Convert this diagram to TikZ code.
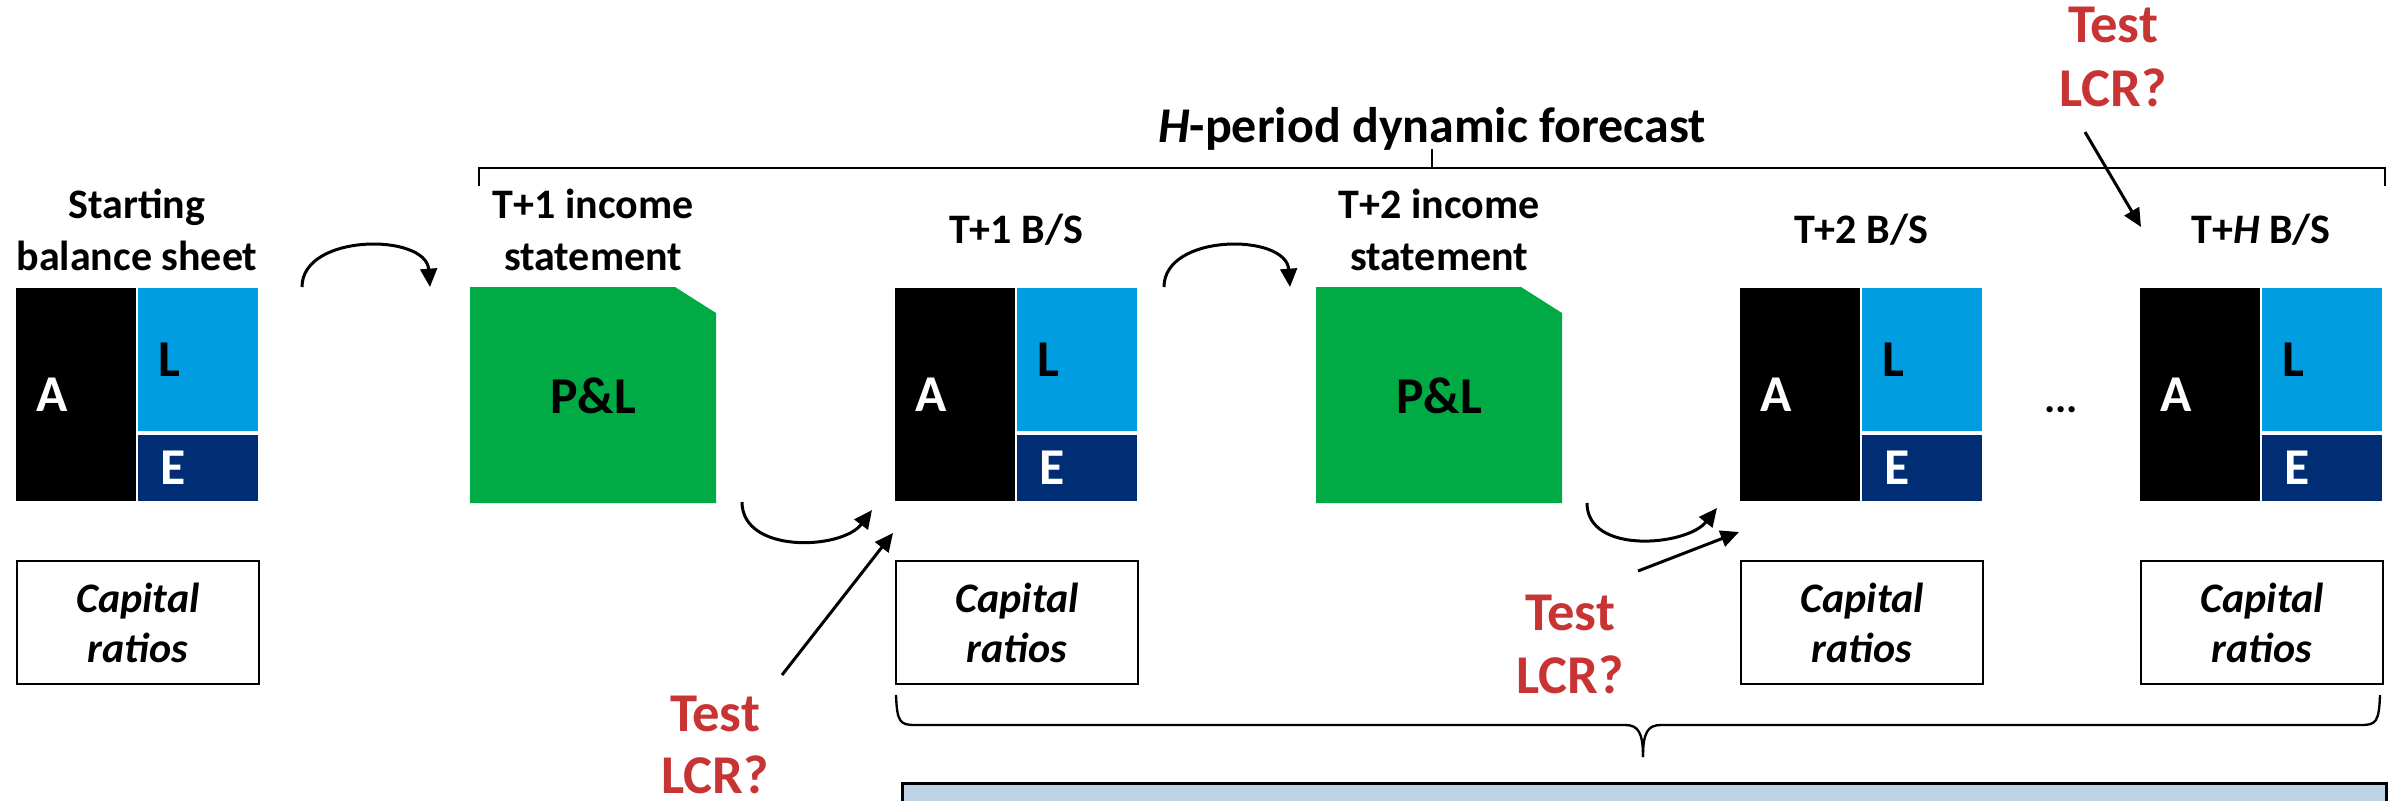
\documentclass[tikz,border=0pt]{standalone}
\usepackage{fontspec}
\setmainfont{Carlito}
\usetikzlibrary{arrows.meta}
\definecolor{lblue}{RGB}{0,158,224}
\definecolor{edark}{RGB}{0,45,116}
\definecolor{plgreen}{RGB}{0,170,68}
\definecolor{lcrred}{RGB}{200,52,52}
\definecolor{panelblue}{RGB}{190,212,230}
\newcommand\bsheet[2]{% #1 name, #2 left x
  \node[blk, fill=black, minimum height=63.9pt, anchor=north west] (#1A) at (#2,288) {};
  \node[blk, fill=lblue, minimum height=42.9pt, anchor=north west] (#1L) at ([xshift=0.6pt]#1A.north east) {};
  \node[blk, fill=edark, minimum height=19.8pt, anchor=south west] (#1E) at ([xshift=0.6pt]#1A.south east) {};
  \node[ltr, text=white] (#1At) at ([xshift=6pt]#1A.west) {A};
  \node[ltr] (#1Lt) at ([xshift=6pt]#1L.west) {L};
  \node[ltr, text=white] (#1Et) at ([xshift=6.6pt]#1E.west) {E};
}
\newcommand\capbox[2]{% #1 name, #2 left x
  \node[capb, anchor=north west] (#1) at (#2,560) {};
  \node[capt] (#1a) at ([yshift=-15.6pt]#1.north) {Capital};
  \node[capt] (#1b) at ([yshift=-30.6pt]#1.north) {ratios};
}
\newcommand\plbox[2]{% #1 name, #2 left x
  \fill[plgreen] (#2,287) -- ++(205,0) -- ++(41,26) -- ++(0,190) -- ++(-246,0) -- cycle;
  \node[pltxt] (#1) at (#2+123,413) {P\&L};
}
\begin{document}
\begin{tikzpicture}[x=0.3pt,y=-0.3pt,
  blk/.style={minimum width=36pt, inner sep=0, outer sep=0},
  ltr/.style={font=\bfseries\fontsize{15.5}{18}\selectfont, inner sep=0, anchor=west},
  hdr/.style={font=\bfseries\fontsize{12.6}{15}\selectfont, inner sep=0, anchor=base},
  capb/.style={draw, line width=0.6pt, minimum width=72.6pt, minimum height=36.9pt, inner sep=0},
  capt/.style={font=\bfseries\itshape\fontsize{12.6}{15}\selectfont, inner sep=0, anchor=base},
  pltxt/.style={font=\bfseries\fontsize{15.5}{18}\selectfont, inner sep=0, anchor=base},
  lcr/.style={font=\bfseries\fontsize{16.4}{19}\selectfont, text=lcrred, inner sep=0, anchor=base},
  conn/.style={line width=0.9pt, -{Triangle[length=5.5pt,width=5pt]}},
  brk/.style={line width=0.6pt},
  brc/.style={line width=0.7pt}]
\useasboundingbox (0,0) rectangle (2400,800);

% balance sheets
\bsheet{bs0}{16}
\bsheet{bs1}{895}
\bsheet{bs2}{1740}
\bsheet{bsh}{2140}

% P&L boxes
\plbox{pl1}{470}
\plbox{pl2}{1316}

% headings
\node[hdr] (h0a) at (137,218) {Starting};
\node[hdr] (h0b) at (137,270) {balance sheet};
\node[hdr] (h1a) at (593,218) {T+1 income};
\node[hdr] (h1b) at (593,270) {statement};
\node[hdr] (h2a) at (1439,218) {T+2 income};
\node[hdr] (h2b) at (1439,270) {statement};
\node[hdr] (hb1) at (1016,243) {T+1 B/S};
\node[hdr] (hb2) at (1861,243) {T+2 B/S};
\node[hdr] (hbh) at (2261,243) {T+\textit{H} B/S};
\node[hdr, font=\bfseries\fontsize{15}{18}\selectfont] (fc) at (1432,142) {\textit{H}-period dynamic forecast};
\node[hdr] (dots) at (2061,412) {...};

% capital ratio boxes
\capbox{cr0}{16}
\capbox{cr1}{895}
\capbox{cr2}{1740}
\capbox{crh}{2140}

% top bracket
\coordinate (tbl) at (479,186);
\coordinate (tbr) at (2385,186);
\coordinate (tbc) at (1432,149);
\draw[brk] (tbl) |- (tbr |- 0,168) -- (tbr);
\draw[brk] (tbc) -- (tbc |- 0,168);

% bottom brace
\coordinate (bbl) at (896,695);
\coordinate (bbr) at (2380,695);
\coordinate (bbc) at (1643,757);
\draw[brc] (bbl) .. controls (897,722) and (900,725) .. (915,725) -- (1625,725) .. controls (1638,725) and (1643,732) .. (bbc);
\draw[brc] (bbr) .. controls (2379,722) and (2376,725) .. (2361,725) -- (1661,725) .. controls (1648,725) and (1643,732) .. (bbc);

% panel
\node[draw, fill=panelblue, line width=0.9pt, anchor=north west, minimum width=445.2pt, minimum height=30pt, inner sep=0] (panel) at (901,782) {};

% Test LCR labels
\node[lcr] (t3a) at (2113,42) {Test};
\node[lcr] (t3b) at (2113,106) {LCR?};
\node[lcr] (t2a) at (1570,630) {Test};
\node[lcr] (t2b) at (1570,693) {LCR?};
\node[lcr] (t1a) at (715,731) {Test};
\node[lcr] (t1b) at (715,793) {LCR?};

% flow arrows
\coordinate (a1s) at (302,287); \coordinate (a1e) at (430,287);
\coordinate (a2s) at (742,502); \coordinate (a2e) at (872,510);
\coordinate (a3s) at (1164,287); \coordinate (a3e) at (1290,287);
\coordinate (a4s) at (1587,503); \coordinate (a4e) at (1717,508);
\draw[conn] (a1s) .. controls +(0,-54) and +(-4,-54) .. (a1e);
\draw[conn] (a2s) .. controls +(0,52) and +(-30,40) .. (a2e);
\draw[conn] (a3s) .. controls +(0,-54) and +(-4,-54) .. (a3e);
\draw[conn] (a4s) .. controls +(0,52) and +(-30,38) .. (a4e);

% LCR arrows
\coordinate (l1s) at (782,675); \coordinate (l1e) at (893,533);
\coordinate (l2s) at (1638,571); \coordinate (l2e) at (1739,532);
\coordinate (l3s) at (2085,132); \coordinate (l3e) at (2141,227);
\draw[conn] (l1s) -- (l1e);
\draw[conn] (l2s) -- (l2e);
\draw[conn] (l3s) -- (l3e);
\end{tikzpicture}
\end{document}
